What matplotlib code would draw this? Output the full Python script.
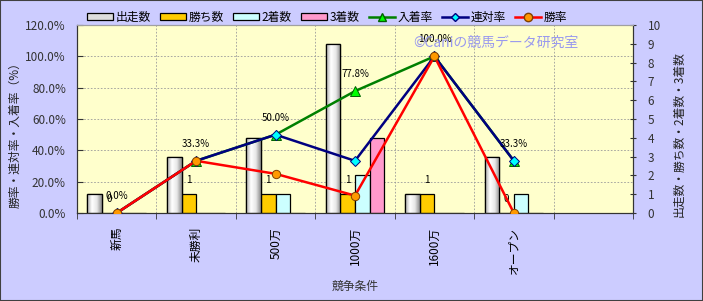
import numpy as np
import matplotlib
matplotlib.use('Agg')
import matplotlib.pyplot as plt
from matplotlib.lines import Line2D
from matplotlib.patches import Rectangle
from matplotlib.colors import LinearSegmentedColormap

plt.rcParams['font.family'] = ['Noto Sans CJK JP', 'DejaVu Sans']

# data
categories = ['新馬', '未勝利', '500万', '1000万', '1600万', 'オープン']
starts = [1, 3, 4, 9, 1, 3]
wins = [0, 1, 1, 1, 1, 0]
seconds = [0, 0, 1, 2, 0, 1]
thirds = [0, 0, 0, 4, 0, 0]
win_rate = [0.0, 33.3, 25.0, 11.1, 100.0, 0.0]
rentai_rate = [0.0, 33.3, 50.0, 33.3, 100.0, 33.3]
place_rate = [0.0, 33.3, 50.0, 77.8, 100.0, 33.3]

W, H = 703, 301
fig = plt.figure(figsize=(W / 100, H / 100), dpi=100, facecolor='#CCCCFF')
fig.patches.append(Rectangle((0, 0), 1, 1, transform=fig.transFigure, fill=False,
                             edgecolor='#404040', lw=1.5))

ax = fig.add_axes([77 / W, 1 - 213 / H, 556 / W, 188 / H])
ax2 = ax.twinx()
ax.set_zorder(ax2.get_zorder() + 1)
ax.patch.set_visible(False)
ax2.patch.set_visible(True)
ax2.patch.set_facecolor('#FFFFCC')

n = 7  # one empty slot on the right
x = np.arange(len(categories))
ax.set_xlim(-0.5, n - 0.5)
ax.set_ylim(0, 120)
ax2.set_ylim(0, 10)

# grid (drawn on bar axes so it stays behind bars)
for b in np.arange(n + 1) - 0.5:
    ax2.axvline(b, color='#9a9a9a', lw=0.6, ls=(0, (2, 2)), zorder=0.5)
for p in range(20, 120, 20):
    ax2.axhline(p / 12, color='#9a9a9a', lw=0.6, ls=(0, (2, 2)), zorder=0.5)

# bars
bw = 0.184
grad = LinearSegmentedColormap.from_list('g', ['#a8a8a8', '#ffffff', '#e8e8e8', '#8c8c8c'])
gimg = np.linspace(0, 1, 64).reshape(1, -1)
bars1 = ax2.bar(x - 1.5 * bw, starts, bw, color='#eeeeee', edgecolor='black', lw=0.9, zorder=2)
for r in bars1:
    im = ax2.imshow(gimg, cmap=grad, aspect='auto', zorder=2.05,
                    extent=[r.get_x(), r.get_x() + r.get_width(), 0, r.get_height()])
    im.set_clip_path(r)
    ax2.add_patch(Rectangle((r.get_x(), 0), r.get_width(), r.get_height(), fill=False,
                            edgecolor='black', lw=0.9, zorder=2.1))
ax2.bar(x - 0.5 * bw, wins, bw, color='#FFCC00', edgecolor='black', lw=0.9, zorder=2)
ax2.bar(x + 0.5 * bw, seconds, bw, color='#CCFFFF', edgecolor='black', lw=0.9, zorder=2)
ax2.bar(x + 1.5 * bw, thirds, bw, color='#FF99CC', edgecolor='black', lw=0.9, zorder=2)
ax2.set_xlim(-0.5, n - 0.5)
ax2.set_ylim(0, 10)

for xi, v in zip(x, wins):
    ax2.annotate(str(v), (xi - 0.5 * bw, v), xytext=(0, 14), textcoords='offset pixels',
                 ha='center', va='center', fontsize=7, zorder=5)

# lines
ax.plot(x, place_rate, color='#008000', lw=1.8, marker='^', ms=6.5,
        mfc='#00FF00', mec='#006000', mew=0.7, zorder=3)
ax.plot(x, rentai_rate, color='#000080', lw=1.8, marker='D', ms=5,
        mfc='#00FFFF', mec='#000080', mew=0.7, zorder=4)
ax.plot(x, win_rate, color='#FF0000', lw=1.8, marker='o', ms=6,
        mfc='#FF9900', mec='#804000', mew=0.7, zorder=5)
for xi, v in zip(x, place_rate):
    ax.annotate(f'{v:.1f}%', (xi, v), xytext=(0, 17), textcoords='offset pixels',
                ha='center', va='center', fontsize=7, zorder=6)

# axes styling
ax.set_yticks(range(0, 121, 20))
ax.set_yticklabels([f'{v:.1f}%' for v in range(0, 121, 20)], fontsize=8.5, color='#333333')
ax2.set_yticks(range(0, 11))
ax2.set_yticklabels([str(v) for v in range(0, 11)], fontsize=8.5, color='#333333')
ax.set_xticks(x)
ax.set_xticklabels(categories, rotation=90, fontsize=8.5, va='top', ha='center')
ax.tick_params(axis='x', length=0, pad=10)
ax.set_xticks(np.arange(n + 1) - 0.5, minor=True)
ax.tick_params(axis='x', which='minor', length=4, direction='out', color='#333333')
ax.tick_params(axis='y', length=4, direction='in', pad=8, color='#333333')
ax2.tick_params(axis='y', length=5, direction='inout', pad=8, color='#333333')
for a in (ax, ax2):
    a.spines['top'].set_color('#a0a0a0')
    a.spines['left'].set_color('#333333')
    a.spines['right'].set_color('#333333')
    a.spines['bottom'].set_color('#333333')

fig.text(15 / W, 1 - 132 / H, '勝率・連対率・入着率（%）', rotation=90, ha='center', va='center',
         fontsize=8.5, color='#222222')
fig.text(679 / W, 1 - 134 / H, '出走数・勝ち数・2着数・3着数', rotation=90, ha='center', va='center',
         fontsize=8.5, color='#222222')
fig.text(355 / W, 1 - 286 / H, '競争条件', ha='center', va='center', fontsize=8.5, color='#333333')
fig.text(496 / W, 1 - 43 / H, '©Caniの競馬データ研究室', ha='center', va='center',
         fontsize=10, color='#9999EE', zorder=10)

# legend
handles = [
    Rectangle((0, 0), 1, 1, facecolor='#dddddd', edgecolor='black', lw=0.9),
    Rectangle((0, 0), 1, 1, facecolor='#FFCC00', edgecolor='black', lw=0.9),
    Rectangle((0, 0), 1, 1, facecolor='#CCFFFF', edgecolor='black', lw=0.9),
    Rectangle((0, 0), 1, 1, facecolor='#FF99CC', edgecolor='black', lw=0.9),
    Line2D([], [], color='#008000', lw=1.8, marker='^', ms=6, mfc='#00FF00', mec='#006000'),
    Line2D([], [], color='#000080', lw=1.8, marker='D', ms=4.5, mfc='#00FFFF', mec='#000080'),
    Line2D([], [], color='#FF0000', lw=1.8, marker='o', ms=6, mfc='#FF9900', mec='#804000'),
]
labels = ['出走数', '勝ち数', '2着数', '3着数', '入着率', '連対率', '勝率']
fig.legend(handles, labels, loc='center', bbox_to_anchor=(327 / W, 1 - 17 / H), ncol=7,
           frameon=False, fontsize=8.5, handlelength=2.2, handleheight=0.55,
           handletextpad=0.2, columnspacing=0.8, borderpad=0)

fig.savefig('out.png', dpi=100, facecolor=fig.get_facecolor())
